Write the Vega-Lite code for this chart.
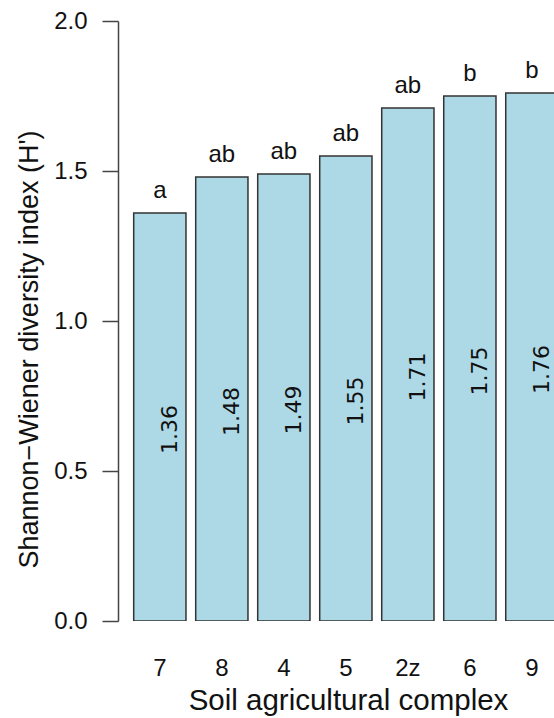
{
  "$schema": "https://vega.github.io/schema/vega-lite/v6.json",
  "autosize": {"type": "none"},
  "padding": {"left": 118, "top": 21, "right": 0, "bottom": 97},
  "width": 436,
  "height": 600,
  "background": "white",
  "config": {
    "view": {"stroke": null},
    "font": "Liberation Sans"
  },
  "data": {
    "values": [
      {"complex": "7", "H": 1.36, "group": "a"},
      {"complex": "8", "H": 1.48, "group": "ab"},
      {"complex": "4", "H": 1.49, "group": "ab"},
      {"complex": "5", "H": 1.55, "group": "ab"},
      {"complex": "2z", "H": 1.71, "group": "ab"},
      {"complex": "6", "H": 1.75, "group": "b"},
      {"complex": "9", "H": 1.76, "group": "b"}
    ]
  },
  "encoding": {
    "x": {
      "field": "complex",
      "type": "nominal",
      "sort": null,
      "scale": {"range": [15.7, 440], "paddingInner": 0.157, "paddingOuter": 0},
      "axis": {
        "orient": "bottom",
        "domain": false,
        "ticks": false,
        "labelAngle": 0,
        "labelPadding": 35,
        "labelFontSize": 24,
        "labelColor": "#111",
        "labelFont": "Liberation Sans",
        "title": "Soil agricultural complex",
        "titleFont": "Liberation Sans",
        "titleFontSize": 29.5,
        "titleFontWeight": "normal",
        "titleColor": "#111",
        "titleX": 230,
        "titleY": 88,
        "titleAlign": "center",
        "titleBaseline": "alphabetic"
      }
    },
    "y": {
      "field": "H",
      "type": "quantitative",
      "scale": {"domain": [0, 2], "nice": false, "zero": true},
      "axis": {
        "values": [0, 0.5, 1, 1.5, 2],
        "format": ".1f",
        "grid": false,
        "domainColor": "#444",
        "domainWidth": 1.5,
        "tickColor": "#444",
        "tickWidth": 1.5,
        "tickSize": 16,
        "labelPadding": 15,
        "labelFontSize": 24,
        "labelColor": "#111",
        "labelFont": "Liberation Sans",
        "title": "Shannon−Wiener diversity index (H')",
        "titleFont": "Liberation Sans",
        "titleFontSize": 27,
        "titleFontWeight": "normal",
        "titleColor": "#111",
        "titleAngle": 270,
        "titleX": -81,
        "titleY": 328,
        "titleAlign": "center",
        "titleBaseline": "alphabetic"
      }
    }
  },
  "layer": [
    {
      "mark": {"type": "bar", "fill": "#ADD8E6", "stroke": "#333", "strokeWidth": 1.5, "clip": true}
    },
    {
      "mark": {"type": "text", "baseline": "alphabetic", "align": "center", "dy": -15, "fontSize": 24, "font": "Liberation Sans", "color": "#111"},
      "encoding": {"text": {"field": "group"}}
    },
    {
      "transform": [{"calculate": "datum.H / 2", "as": "mid"}],
      "mark": {"type": "text", "baseline": "alphabetic", "align": "center", "angle": 270, "dx": -12.5, "dy": 17.5, "fontSize": 22, "font": "DejaVu Sans", "color": "#111"},
      "encoding": {
        "y": {"field": "mid", "type": "quantitative"},
        "text": {"field": "H", "type": "quantitative", "format": ".2f"}
      }
    }
  ]
}
